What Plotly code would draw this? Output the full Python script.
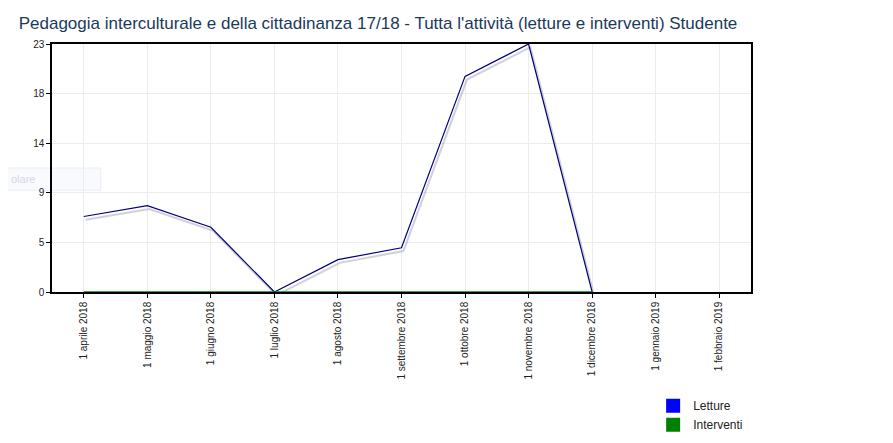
import plotly.graph_objects as go

mesi = ["1 aprile 2018", "1 maggio 2018", "1 giugno 2018", "1 luglio 2018",
        "1 agosto 2018", "1 settembre 2018", "1 ottobre 2018", "1 novembre 2018",
        "1 dicembre 2018", "1 gennaio 2019", "1 febbraio 2019"]
letture = [7.0, 8.0, 6.0, 0, 3.0, 4.1, 20.0, 23, 0]
interventi = [0, 0, 0, 0, 0, 0, 0, 0, 0]
y_tick_vals = [0, 4.6, 9.2, 13.8, 18.4, 23]
y_tick_text = ["0", "5", "9", "14", "18", "23"]

xs = list(range(len(mesi)))

fig = go.Figure()
# ombra della linea
fig.add_trace(go.Scatter(x=[x + 0.03 for x in xs[:len(letture)]], y=[v - 0.3 for v in letture],
                         mode="lines", line=dict(color="rgba(150,150,170,0.45)", width=2),
                         showlegend=False, hoverinfo="skip"))
fig.add_trace(go.Scatter(x=xs[:len(letture)], y=letture, mode="lines",
                         line=dict(color="#000080", width=1.2), showlegend=False))
fig.add_trace(go.Scatter(x=xs[:len(interventi)], y=interventi, mode="lines",
                         line=dict(color="#008000", width=1.5), showlegend=False))
# voci di legenda
fig.add_trace(go.Scatter(x=[None], y=[None], mode="markers", name="Letture",
                         marker=dict(symbol="square", size=14, color="#0000ff")))
fig.add_trace(go.Scatter(x=[None], y=[None], mode="markers", name="Interventi",
                         marker=dict(symbol="square", size=14, color="#008000")))

# riquadro sbiadito a sinistra
fig.add_shape(type="rect", xref="paper", yref="paper", x0=-0.07, x1=0.07,
              y0=0.41, y1=0.5, line=dict(color="rgba(200,210,230,0.35)", width=1),
              fillcolor="rgba(235,240,250,0.3)", layer="below")
fig.add_annotation(x=-0.062, y=0.455, xref="paper", yref="paper", xanchor="left",
                   text="olare", showarrow=False,
                   font=dict(size=11, color="rgba(170,180,200,0.5)"))

fig.update_layout(
    width=893, height=443,
    title=dict(text="Pedagogia interculturale e della cittadinanza 17/18 - Tutta l'attività (letture e interventi) Studente",
               x=0.012, y=0.965, xanchor="left", yanchor="middle",
               font=dict(size=17, color="#1a3a5c", family="Liberation Sans")),
    margin=dict(l=44, r=150, t=36, b=154),
    paper_bgcolor="white", plot_bgcolor="white",
    font=dict(family="Liberation Sans", size=11, color="#222"),
    xaxis=dict(tickvals=xs, ticktext=mesi, tickangle=-90, range=[-0.5, 10.5],
               showline=True, linecolor="black", linewidth=1.5, mirror=True,
               showgrid=True, gridcolor="#ececec", ticks="outside", ticklen=4,
               tickcolor="black", tickfont=dict(size=10), zeroline=False),
    yaxis=dict(tickvals=y_tick_vals, ticktext=y_tick_text, range=[0, 23],
               showline=True, linecolor="black", linewidth=1.5, mirror=True,
               showgrid=True, gridcolor="#ececec", ticks="outside", ticklen=4,
               tickcolor="black", tickfont=dict(size=10), zeroline=False),
    legend=dict(x=0.86, y=-0.4, xanchor="left", yanchor="top",
                font=dict(size=12), bgcolor="rgba(0,0,0,0)", tracegroupgap=0),
)

fig.write_html("out.html")
